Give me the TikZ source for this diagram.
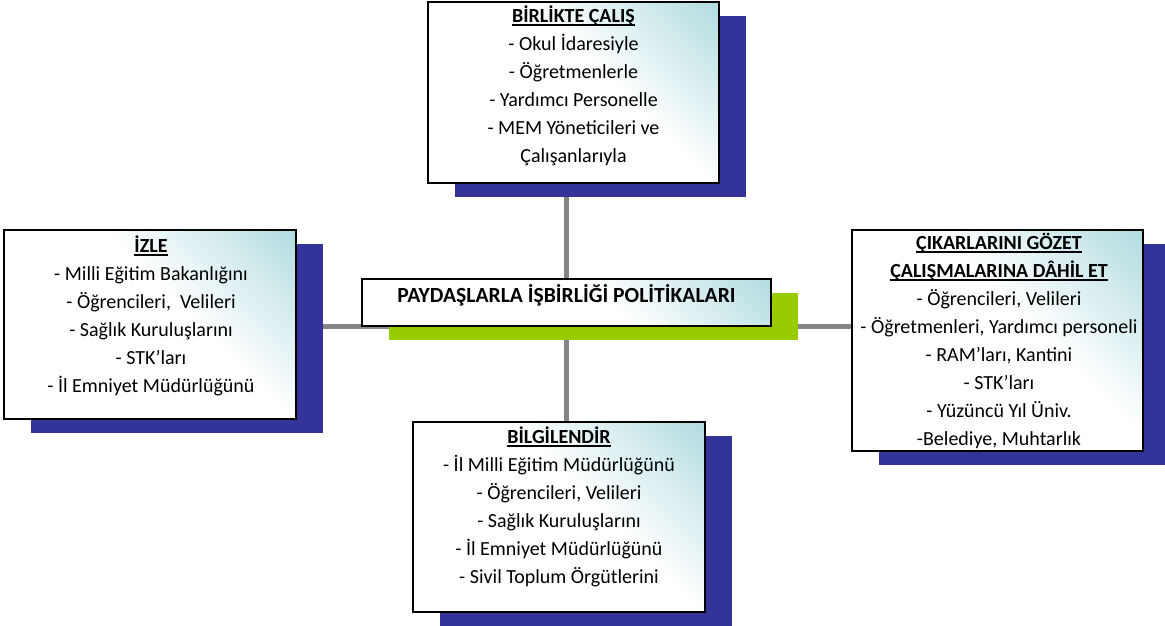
\documentclass[tikz,border=0pt]{standalone}
\usepackage{fontspec}
\setmainfont{Carlito}
\usetikzlibrary{shadows}
\definecolor{shadowblue}{RGB}{51,51,153}
\definecolor{shadowgreen}{RGB}{153,204,0}
\definecolor{linegray}{RGB}{134,134,134}
\definecolor{boxteal}{RGB}{178,220,224}
\pgfdeclarelayer{background}
\pgfsetlayers{background,main}
\pgfdeclareverticalshading{panelshade}{100bp}{color(0bp)=(white); color(57bp)=(white); color(71bp)=(boxteal!50!white); color(85bp)=(boxteal); color(100bp)=(boxteal)}
\newcommand{\headline}[1]{\textbf{\setbox0\hbox{#1}\rlap{\rule[-3.4pt]{\wd0}{1.7pt}}\box0}}
\begin{document}
\begin{tikzpicture}[x=1pt,y=-1pt,
  panel/.style={rectangle, draw=black, line width=1.6pt, inner sep=0pt,
    shading=panelshade, shading angle=-45},
  blueshadow/.style={drop shadow={shadow xshift=27pt, shadow yshift=-14pt, fill=shadowblue, opacity=1}},
  greenshadow/.style={drop shadow={shadow xshift=27pt, shadow yshift=-14pt, fill=shadowgreen, opacity=1}},
  txt/.style={anchor=north, align=center, inner sep=0pt, font=\fontsize{20}{28}\selectfont},
  connector/.style={draw=linegray, line width=5pt}]
\useasboundingbox (0,0) rectangle (1165,626);

% boxes
\node[panel, blueshadow, minimum width=291pt, minimum height=181pt] (birlikte) at (573.5,92.5) {};
\node[panel, blueshadow, minimum width=292pt, minimum height=189pt] (izle) at (150,324.5) {};
\node[panel, blueshadow, minimum width=291pt, minimum height=221pt] (cikar) at (997.5,340.5) {};
\node[panel, blueshadow, minimum width=292pt, minimum height=190pt] (bilgi) at (559,517) {};
\node[panel, greenshadow, minimum width=409pt, minimum height=47pt] (core) at (566.5,302.5) {};

% connectors (behind everything)
\begin{pgfonlayer}{background}
\fill[white] (0,0) rectangle (1165,626);
\draw[connector] (izle.east |- core.south) -- (cikar.west |- core.south);
\draw[connector] (core.center |- birlikte.south) -- (core.center |- bilgi.north);
\end{pgfonlayer}

% texts
\node[txt] (birliktetxt) at (573.5,2.4) {\strut\headline{BİRLİKTE ÇALIŞ}\\
  - Okul İdaresiyle\\ - Öğretmenlerle\\ - Yardımcı Personelle\\ - MEM Yöneticileri ve\\ Çalışanlarıyla};
\node[txt] (izletxt) at (151,232.4) {\strut\headline{İZLE}\\
  - Milli Eğitim Bakanlığını\\ - Öğrencileri, \ Velileri\\ - Sağlık Kuruluşlarını\\ - STK’ları\\ - İl Emniyet Müdürlüğünü};
\node[txt] (cikartxt) at (999,229.4) {\strut\headline{ÇIKARLARINI GÖZET}\\
  \headline{ÇALIŞMALARINA DÂHİL ET}\\
  - Öğrencileri, Velileri\\ - Öğretmenleri, Yardımcı personeli\\ - RAM’ları, Kantini\\ - STK’ları\\ - Yüzüncü Yıl Üniv.\\ -Belediye, Muhtarlık};
\node[txt] (bilgitxt) at (559,423.4) {\strut\headline{BİLGİLENDİR}\\
  - İl Milli Eğitim Müdürlüğünü\\ - Öğrencileri, Velileri\\ - Sağlık Kuruluşlarını\\ - İl Emniyet Müdürlüğünü\\ - Sivil Toplum Örgütlerini};
\node[txt, font=\fontsize{21.6}{28}\selectfont] (coretxt) at (566.5,282.4) {\strut\textbf{PAYDAŞLARLA İŞBİRLİĞİ POLİTİKALARI}};
\end{tikzpicture}
\end{document}
